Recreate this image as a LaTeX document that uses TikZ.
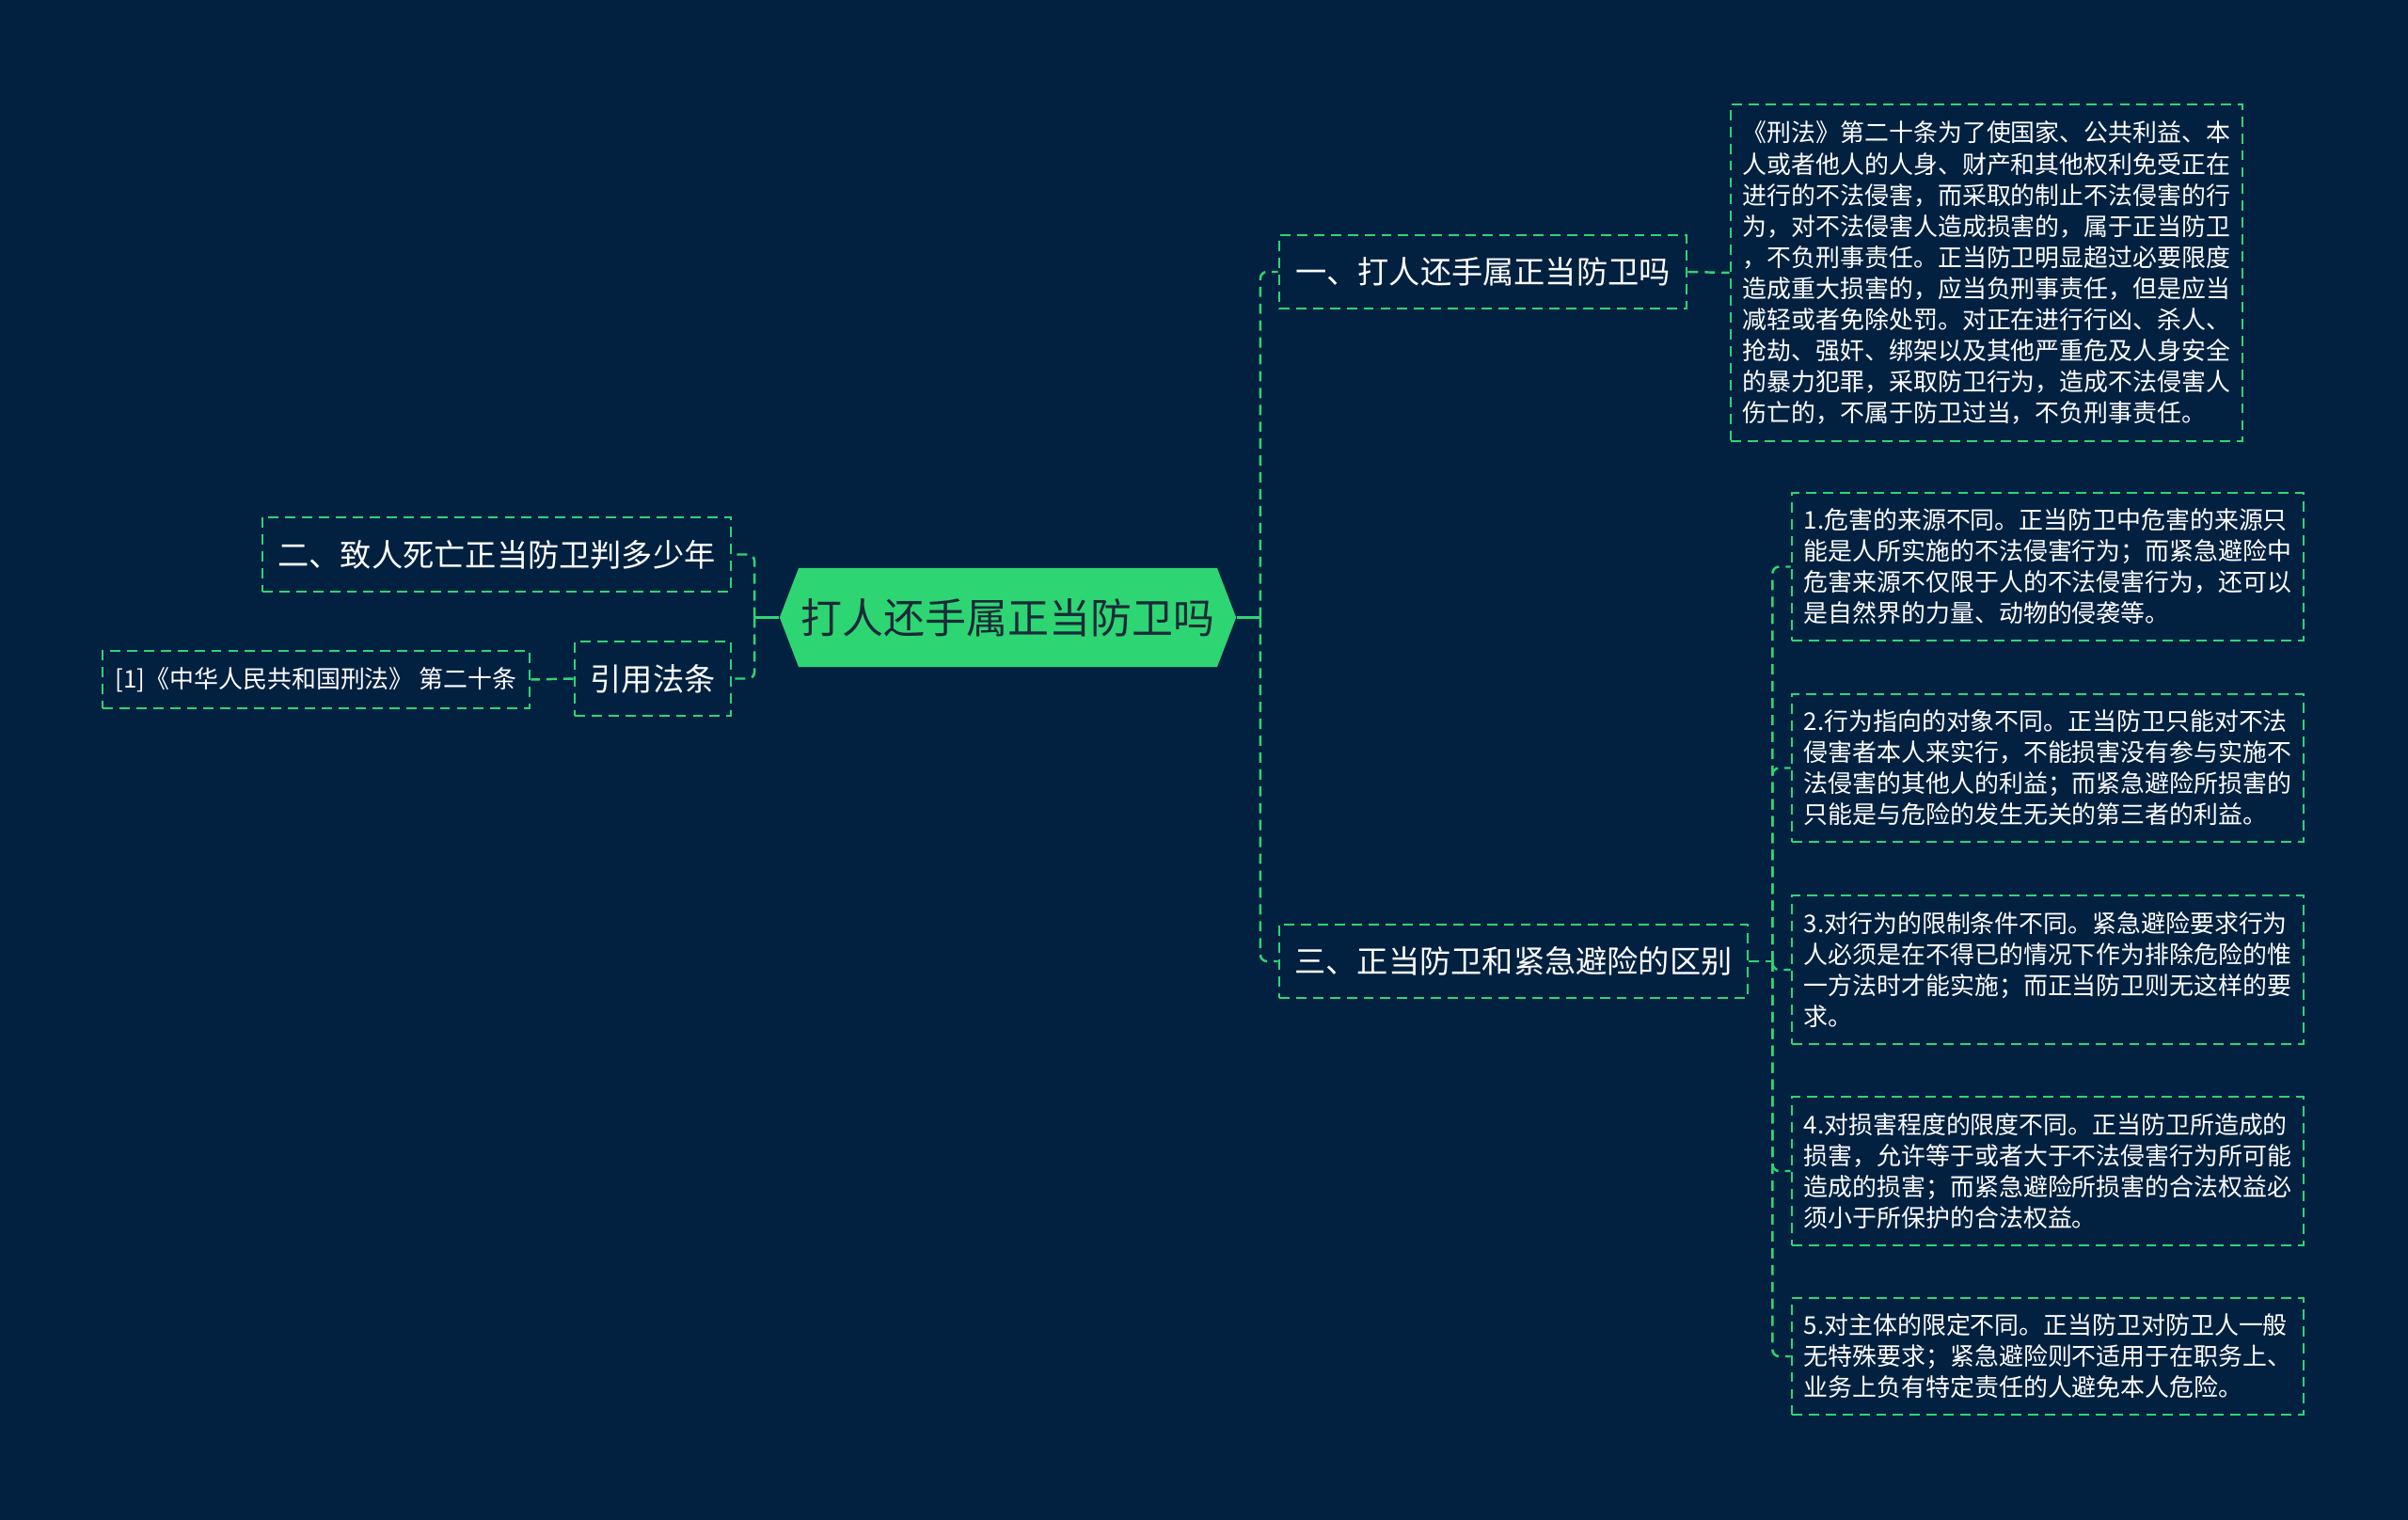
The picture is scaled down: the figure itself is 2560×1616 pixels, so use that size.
\documentclass[tikz,border=0pt]{standalone}
\usepackage{fontspec}
\newfontfamily\cjk{Noto Sans CJK SC}
\usetikzlibrary{shapes.symbols}
\definecolor{bgnavy}{HTML}{022141}
\definecolor{mapgreen}{HTML}{2ED573}
\definecolor{rootink}{HTML}{1B2A38}

\begin{document}
\begin{tikzpicture}[x=0.01cm,y=-0.01cm,
    link/.style={mapgreen,line width=0.7pt,dash pattern=on 3.1pt off 2pt,rounded corners=2pt},
    box/.style={draw=mapgreen,line width=0.7pt,dash pattern=on 3.1pt off 2pt,text=white,
        inner sep=0pt,font=\cjk\fontsize{9.45}{11}\selectfont},
    leaf/.style={box,align=left,font=\cjk\fontsize{7.37}{9.39}\selectfont},
    rootnode/.style={signal,signal to=west and east,signal pointer angle=138,fill=mapgreen,
        text=rootink,inner sep=0pt,font=\cjk\fontsize{12.5}{14}\selectfont}]
\fill[bgnavy] (0,0) rectangle (2560,1616);
\useasboundingbox (0,0) rectangle (2560,1616);

% centre
\node[rootnode,minimum width=4.85cm,minimum height=1.05cm] (root) at (1071.5,656.5) {打人还手属正当防卫吗};

% right side
\node[box,minimum width=4.33cm,minimum height=0.78cm] (c1) at (1576.5,289) {一、打人还手属正当防卫吗};
\node[box,minimum width=4.98cm,minimum height=0.78cm] (c3) at (1609,1022) {三、正当防卫和紧急避险的区别};

\node[leaf,minimum width=5.44cm,minimum height=3.58cm] (t1) at (2112,290) {《刑法》第二十条为了使国家、公共利益、本\\
人或者他人的人身、财产和其他权利免受正在\\
进行的不法侵害，而采取的制止不法侵害的行\\
为，对不法侵害人造成损害的，属于正当防卫\\
，不负刑事责任。正当防卫明显超过必要限度\\
造成重大损害的，应当负刑事责任，但是应当\\
减轻或者免除处罚。对正在进行行凶、杀人、\\
抢劫、强奸、绑架以及其他严重危及人身安全\\
的暴力犯罪，采取防卫行为，造成不法侵害人\\
伤亡的，不属于防卫过当，不负刑事责任。};

\node[leaf,minimum width=5.44cm,minimum height=1.57cm] (d1) at (2177,602.5) {1.危害的来源不同。正当防卫中危害的来源只\\
能是人所实施的不法侵害行为；而紧急避险中\\
危害来源不仅限于人的不法侵害行为，还可以\\
是自然界的力量、动物的侵袭等。};
\node[leaf,minimum width=5.44cm,minimum height=1.57cm] (d2) at (2177,816.5) {2.行为指向的对象不同。正当防卫只能对不法\\
侵害者本人来实行，不能损害没有参与实施不\\
法侵害的其他人的利益；而紧急避险所损害的\\
只能是与危险的发生无关的第三者的利益。};
\node[leaf,minimum width=5.44cm,minimum height=1.58cm] (d3) at (2177,1031) {3.对行为的限制条件不同。紧急避险要求行为\\
人必须是在不得已的情况下作为排除危险的惟\\
一方法时才能实施；而正当防卫则无这样的要\\
求。};
\node[leaf,minimum width=5.44cm,minimum height=1.58cm] (d4) at (2177,1245) {4.对损害程度的限度不同。正当防卫所造成的\\
损害，允许等于或者大于不法侵害行为所可能\\
造成的损害；而紧急避险所损害的合法权益必\\
须小于所保护的合法权益。};
\node[leaf,minimum width=5.44cm,minimum height=1.24cm] (d5) at (2177,1442) {5.对主体的限定不同。正当防卫对防卫人一般\\
无特殊要求；紧急避险则不适用于在职务上、\\
业务上负有特定责任的人避免本人危险。};

% left side
\node[box,minimum width=4.98cm,minimum height=0.79cm] (c2) at (528,589.5) {二、致人死亡正当防卫判多少年};
\node[box,minimum width=1.66cm,minimum height=0.79cm] (c4) at (694,721.5) {引用法条};
\node[leaf,minimum width=4.54cm,minimum height=0.61cm] (ref) at (336,722.5) {[1]《中华人民共和国刑法》 第二十条};

% connectors
\draw[link,solid] (root.east) -- ++(25,0) coordinate (rj);
\draw[link] (rj) |- (c1.west);
\draw[link] (rj) |- (c3.west);
\draw[link,solid] (root.west) -- ++(-26,0) coordinate (lj);
\draw[link] (lj) |- (c2.east);
\draw[link] (lj) |- (c4.east);
\draw[link] (c1.east) -- (t1.west);
\draw[link] (c3.east) -- ++(25,0) coordinate (dj);
\foreach \d in {d1,d2,d3,d4,d5}
    \draw[link] (dj) |- (\d.west);
\draw[link] (c4.west) -- (ref.east);
\end{tikzpicture}
\end{document}
